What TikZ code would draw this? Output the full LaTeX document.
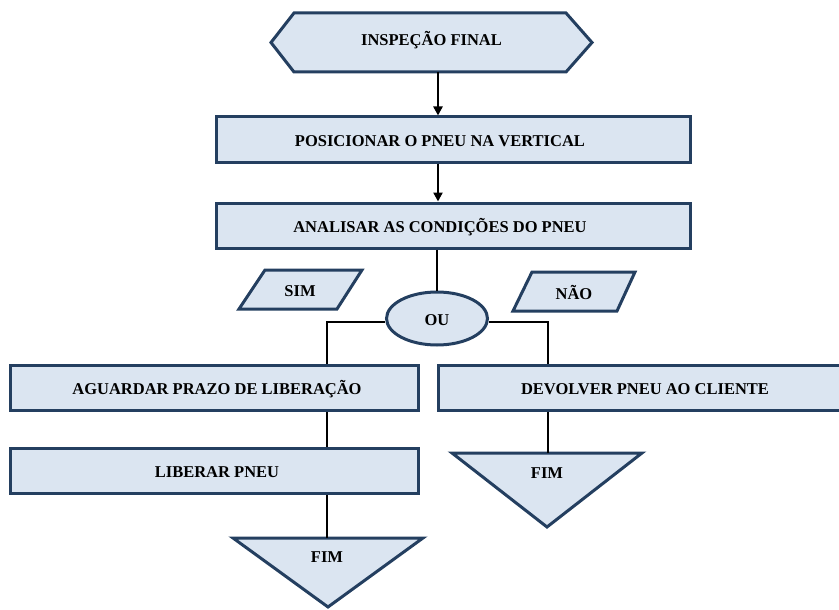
\documentclass[tikz,border=0pt]{standalone}
\usepackage{fontspec}
\setmainfont{Liberation Serif}
\usetikzlibrary{shapes.geometric,arrows.meta}
\definecolor{boxfill}{HTML}{DBE5F1}
\definecolor{boxline}{HTML}{243F60}
\begin{document}
\begin{tikzpicture}[x=1pt,y=-1pt,
  lbl/.style={font=\fontsize{16.5}{18}\selectfont\bfseries, text=black, inner sep=0pt},
  shp/.style={draw=boxline, fill=boxfill, line width=3pt, line join=miter},
  stepbox/.style={shp, rectangle, minimum width=#1, minimum height=45pt, inner sep=0pt},
  area/.style={inner sep=0pt, minimum width=#1},
  conn/.style={draw=black, line width=2.4pt},
  arr/.style={conn, -{Triangle[length=9pt,width=9pt]}}
]
\useasboundingbox (0,0) rectangle (839,610);

% start: hexagon
\draw[shp] (271,42.5)--(294,13)--(566,13)--(592,42.5)--(566,72)--(294,72)--cycle;
\node[area=321, minimum height=59pt] (ini) at (431.5,42.5) {};
\node[lbl] (iniT) at (431.5,40) {INSPEÇÃO FINAL};

% process boxes
\node[stepbox=474] (pos) at (453,139.5) {};
\node[lbl] (posT) at (440,141) {POSICIONAR O PNEU NA VERTICAL};
\node[stepbox=474] (ana) at (453,225.5) {};
\node[lbl] (anaT) at (440,227) {ANALISAR AS CONDIÇÕES DO PNEU};

% decision
\node[shp, ellipse, minimum width=101pt, minimum height=53pt, inner sep=0pt] (ou) at (437,318.5) {};
\node[lbl] (ouT) at (437,320) {OU};

% answer labels
\draw[shp] (265,270)--(362,270)--(337,309)--(239,309)--cycle;
\node[lbl] (sim) at (300,291) {SIM};
\draw[shp] (532,272)--(635,272)--(617,311)--(513,311)--cycle;
\node[lbl] (nao) at (574,292) {NÃO};

% branches
\node[stepbox=408] (agu) at (214,388) {};
\node[lbl] (aguT) at (217,389) {AGUARDAR PRAZO DE LIBERAÇÃO};
\node[stepbox=408] (lib) at (214,471) {};
\node[lbl] (libT) at (217,472) {LIBERAR PNEU};
\node[stepbox=414] (dev) at (645,388) {};
\node[lbl] (devT) at (645,389) {DEVOLVER PNEU AO CLIENTE};

% end triangles
\draw[shp] (233,538)--(423,538)--(328,607)--cycle;
\node[area=190, minimum height=69pt] (fimA) at (328,572.5) {};
\node[lbl] (fimAT) at (327,557) {FIM};
\draw[shp] (452,453)--(642,453)--(547,527)--cycle;
\node[area=190, minimum height=74pt] (fimB) at (547,490) {};
\node[lbl] (fimBT) at (547,473) {FIM};

% connectors
\draw[arr] ([xshift=6.5pt]ini.south) -- ([xshift=-15pt]pos.north);
\draw[arr] ([xshift=-15pt]pos.south) -- ([xshift=-15pt]ana.north);
\draw[conn] ([xshift=-16pt]ana.south) -- (ou.north);
\draw[conn] ([yshift=-3.5pt]ou.west) -| ([xshift=113pt]agu.north);
\draw[conn] ([yshift=-3.5pt]ou.east) -| ([xshift=-97pt]dev.north);
\draw[conn] ([xshift=113pt]agu.south) -- ([xshift=113pt]lib.north);
\draw[conn] ([xshift=113pt]lib.south) -- ([xshift=-1pt]fimA.north);
\draw[conn] ([xshift=-97pt]dev.south) -- ([xshift=1pt]fimB.north);
\end{tikzpicture}
\end{document}
